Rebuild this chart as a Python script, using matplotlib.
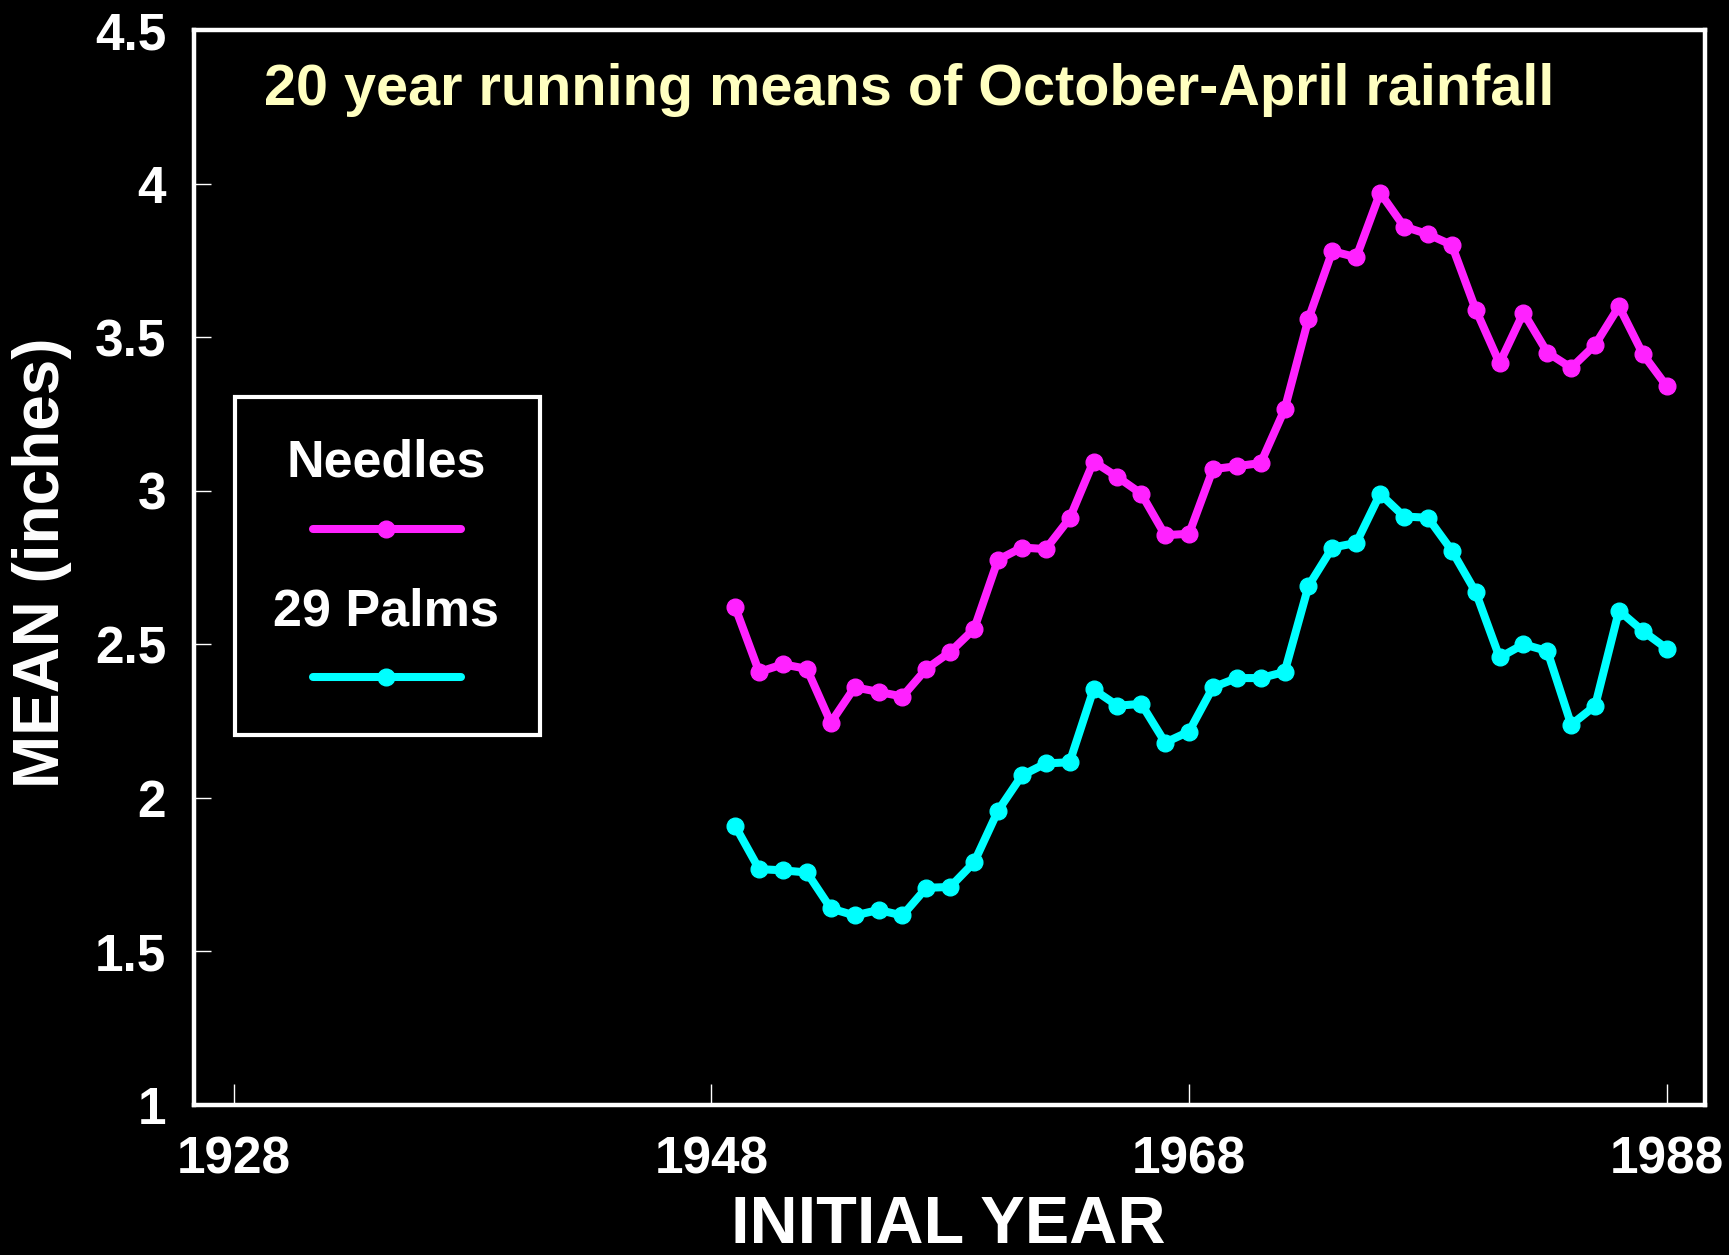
import matplotlib
matplotlib.use("Agg")
import matplotlib.pyplot as plt
from matplotlib.lines import Line2D
from matplotlib.patches import Rectangle

years = list(range(1949, 1989))
needles = [2.62, 2.41, 2.435, 2.42, 2.245, 2.36, 2.345, 2.33, 2.42, 2.475,
           2.55, 2.775, 2.815, 2.81, 2.91, 3.095, 3.045, 2.99, 2.855, 2.86,
           3.07, 3.08, 3.09, 3.265, 3.56, 3.78, 3.76, 3.97, 3.86, 3.835,
           3.80, 3.59, 3.415, 3.58, 3.45, 3.40, 3.475, 3.60, 3.445, 3.34]
palms = [1.908, 1.768, 1.764, 1.757, 1.64, 1.617, 1.635, 1.617, 1.707, 1.71,
         1.79, 1.958, 2.073, 2.112, 2.116, 2.353, 2.30, 2.306, 2.18, 2.216,
         2.36, 2.39, 2.39, 2.41, 2.69, 2.815, 2.83, 2.99, 2.916, 2.912,
         2.805, 2.67, 2.457, 2.50, 2.478, 2.238, 2.30, 2.61, 2.543, 2.486]
x_ticks = [1928, 1948, 1968, 1988]
y_ticks = [1, 1.5, 2, 2.5, 3, 3.5, 4, 4.5]
y_tick_labels = ["1", "1.5", "2", "2.5", "3", "3.5", "4", "4.5"]
series_names = ["Needles", "29 Palms"]

MAG = "#ff22ff"
CYAN = "#00ffff"
FONT = "Liberation Sans"
LW = 5.8
MS = 12

fig = plt.figure(figsize=(17.29, 12.55), dpi=100, facecolor="black")
ax = fig.add_axes([194/1729, 1 - 1105/1255, 1511/1729, 1075/1255])
ax.set_facecolor("black")

ax.plot(years, needles, color=MAG, lw=LW, marker="o", ms=MS, zorder=3)
ax.plot(years, palms, color=CYAN, lw=LW, marker="o", ms=MS, zorder=3)

ax.set_xlim(1926.34, 1989.6)
ax.set_ylim(1, 4.5)
ax.set_xticks(x_ticks)
ax.set_xticklabels([str(v) for v in x_ticks])
ax.set_yticks(y_ticks)
ax.set_yticklabels(y_tick_labels)

for s in ax.spines.values():
    s.set_color("white")
    s.set_linewidth(3.2)

ax.tick_params(axis="x", direction="in", length=15, width=1, color="white",
               labelcolor="white", labelsize=37, pad=22)
ax.tick_params(axis="y", direction="in", length=12, width=1, color="white",
               labelcolor="white", labelsize=37, pad=20)
for lab in ax.get_xticklabels() + ax.get_yticklabels():
    lab.set_fontfamily(FONT)
    lab.set_fontweight("bold")

ax.text(0.473, 0.944, "20 year running means of October-April rainfall",
        transform=ax.transAxes, ha="center", va="center", color="#ffffc0",
        fontsize=41.5, fontweight="bold", fontfamily=FONT)

fig.text(42/1729, 1 - 563/1255, "MEAN (inches)", rotation=90, ha="center",
         va="center", color="white", fontsize=46, fontweight="bold", fontfamily=FONT)
fig.text(948/1729, 1 - 1226/1255, "INITIAL YEAR", ha="center", va="center",
         color="white", fontsize=48, fontweight="bold", fontfamily=FONT)

# legend box
ax.add_patch(Rectangle((0.0271, 0.344), 0.229 - 0.0271, 0.6586 - 0.344,
                       transform=ax.transAxes, fill=False, edgecolor="white",
                       lw=3, zorder=4))
ax.text(0.127, 0.597, series_names[0], transform=ax.transAxes, ha="center",
        va="center", color="white", fontsize=37.5, fontweight="bold", fontfamily=FONT)
ax.add_line(Line2D([0.079, 0.177], [0.536, 0.536], transform=ax.transAxes,
                   color=MAG, lw=LW, solid_capstyle="round"))
ax.add_line(Line2D([0.127], [0.536], transform=ax.transAxes, color=MAG,
                   marker="o", ms=MS))
ax.text(0.127, 0.459, series_names[1], transform=ax.transAxes, ha="center",
        va="center", color="white", fontsize=37.5, fontweight="bold", fontfamily=FONT)
ax.add_line(Line2D([0.079, 0.177], [0.398, 0.398], transform=ax.transAxes,
                   color=CYAN, lw=LW, solid_capstyle="round"))
ax.add_line(Line2D([0.127], [0.398], transform=ax.transAxes, color=CYAN,
                   marker="o", ms=MS))

fig.savefig("out.png", dpi=100, facecolor="black")
